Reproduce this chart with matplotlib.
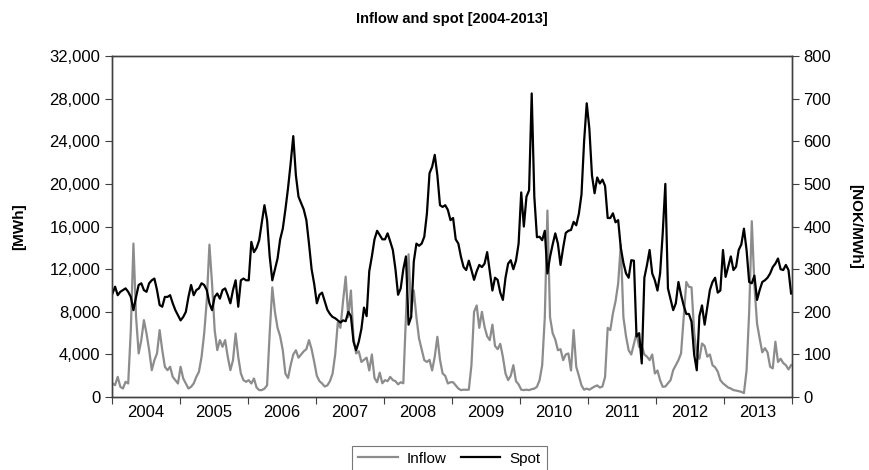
import matplotlib
matplotlib.use('Agg')
import matplotlib.pyplot as plt
import matplotlib.dates as mdates
import matplotlib.ticker as ticker
import numpy as np
import pandas as pd

plt.rcParams['font.family'] = ['Liberation Sans', 'DejaVu Sans']

years = list(range(2004, 2014))

# inflow [MWh], about every second week
inflow_2004 = [1280, 1130, 1900, 970, 810, 1440, 1280, 6290, 14400, 7540, 4100, 5350, 7220,
               5970, 4410, 2530, 3470, 4100, 6290, 4410, 2850, 2530, 2850, 1900, 1590, 1280]
inflow_2005 = [2850, 1750, 1280, 810, 970, 1280, 1900, 2380, 3780, 5970, 9100, 14300, 10660,
               6290, 4410, 5350, 4720, 5350, 3780, 2530, 3470, 5970, 3780, 2220, 1590, 1440]
inflow_2006 = [1590, 1280, 1750, 900, 660, 660, 800, 1100, 6000, 10300, 8000, 6500, 5700,
               4400, 2200, 1800, 3000, 4000, 4400, 3700, 4000, 4300, 4500, 5350, 4500, 3300]
inflow_2007 = [2000, 1500, 1280, 1000, 1100, 1500, 2200, 4000, 7000, 6500, 9000, 11300, 7500,
               10000, 5500, 4100, 4300, 3300, 3500, 3700, 2500, 4000, 1800, 1400, 2300, 1300]
inflow_2008 = [1590, 1500, 1900, 1600, 1500, 1200, 1400, 1300, 7540, 13400, 8000, 10000, 7500,
               5500, 4500, 3470, 3300, 3500, 2500, 3800, 5660, 3500, 2220, 2000, 1280, 1400]
inflow_2009 = [1400, 1100, 810, 660, 700, 690, 700, 3000, 8000, 8600, 6500, 8000, 6600,
               5700, 5350, 6800, 4800, 4500, 5000, 3780, 2220, 1600, 2000, 3000, 1500, 1200]
inflow_2010 = [700, 660, 700, 660, 750, 800, 970, 1590, 3000, 7500, 17500, 7500, 6000,
               5400, 4400, 4500, 3470, 4000, 4100, 2500, 6290, 2850, 2000, 1100, 700, 800]
inflow_2011 = [700, 850, 1000, 1100, 900, 1000, 1900, 6500, 6290, 7850, 9000, 10660, 14300,
               7500, 5700, 4400, 4000, 5000, 5970, 4700, 4800, 4000, 3800, 3470, 4000, 2220]
inflow_2012 = [2500, 1590, 970, 1000, 1300, 1600, 2530, 3000, 3470, 4100, 7500, 10800, 10350,
               10300, 6100, 4000, 3600, 5030, 4800, 3800, 4000, 3000, 2800, 2400, 1600, 1300]
inflow_2013 = [1100, 900, 810, 660, 620, 560, 500, 380, 2500, 8000, 16500, 10500, 6900,
               5500, 4200, 4600, 4200, 2850, 2700, 5200, 3300, 3600, 3200, 3000, 2600, 3000]

# spot price [NOK/MWh]
spot_2004 = [243, 259, 239, 247, 251, 255, 247, 235, 204, 235, 263, 267, 251,
             247, 267, 274, 278, 251, 216, 212, 235, 235, 239, 220, 204, 192]
spot_2005 = [180, 188, 200, 235, 263, 239, 251, 255, 267, 263, 251, 220, 204,
             235, 243, 231, 251, 255, 239, 220, 251, 274, 212, 274, 278, 274]
spot_2006 = [274, 364, 340, 350, 368, 410, 450, 415, 330, 274, 300, 325, 370,
             395, 440, 490, 548, 612, 520, 470, 455, 440, 415, 360, 300, 265]
spot_2007 = [220, 240, 245, 225, 205, 195, 188, 185, 180, 175, 180, 178, 200,
             190, 130, 110, 130, 160, 210, 190, 295, 330, 370, 390, 380, 370]
spot_2008 = [370, 384, 365, 345, 300, 240, 255, 300, 330, 170, 188, 318, 360,
             355, 360, 376, 430, 525, 540, 568, 520, 450, 446, 450, 439, 415]
spot_2009 = [420, 370, 360, 329, 305, 298, 320, 298, 275, 295, 310, 305, 313,
             340, 295, 250, 280, 275, 245, 228, 280, 313, 321, 300, 320, 360]
spot_2010 = [480, 400, 470, 485, 712, 470, 375, 376, 368, 390, 290, 329, 358,
             384, 360, 310, 350, 385, 390, 392, 411, 403, 430, 475, 600, 689]
spot_2011 = [630, 520, 478, 515, 501, 510, 495, 420, 420, 431, 410, 415, 350,
             315, 290, 280, 321, 320, 142, 150, 79, 280, 310, 345, 290, 274]
spot_2012 = [250, 290, 384, 500, 255, 230, 204, 220, 270, 240, 215, 195, 195,
             177, 100, 63, 190, 215, 170, 210, 251, 270, 280, 245, 250, 345]
spot_2013 = [282, 306, 330, 298, 306, 345, 358, 395, 345, 270, 267, 285, 228,
             251, 270, 274, 280, 290, 305, 313, 325, 300, 298, 310, 298, 243]

inflow = (inflow_2004 + inflow_2005 + inflow_2006 + inflow_2007 + inflow_2008 +
          inflow_2009 + inflow_2010 + inflow_2011 + inflow_2012 + inflow_2013)
spot = (spot_2004 + spot_2005 + spot_2006 + spot_2007 + spot_2008 +
        spot_2009 + spot_2010 + spot_2011 + spot_2012 + spot_2013)
dates = pd.date_range('2004-01-03', '2013-12-29', periods=len(spot))

fig = plt.figure(figsize=(8.69, 4.70), dpi=100)
ax = fig.add_axes([0.129, 0.155, 0.782, 0.726])
ax2 = ax.twinx()

l1, = ax.plot(dates, inflow, color='#8c8c8c', lw=1.6)
l2, = ax2.plot(dates, spot, color='black', lw=1.6)

ax.set_xlim(pd.Timestamp('2004-01-01'), pd.Timestamp('2014-01-01'))
ax.set_ylim(0, 32000)
ax2.set_ylim(0, 800)
ax.set_yticks(np.arange(0, 32001, 4000))
ax2.set_yticks(np.arange(0, 801, 100))
ax.yaxis.set_major_formatter(ticker.FuncFormatter(lambda v, p: f'{int(v):,}'))

# year ticks at boundaries, labels in the middle of each year
ax.xaxis.set_major_locator(mdates.YearLocator())
ax.xaxis.set_major_formatter(ticker.NullFormatter())
ax.set_xticks([pd.Timestamp(f'{y}-07-02') for y in years], minor=True)
ax.set_xticklabels([str(y) for y in years], minor=True)
ax.tick_params(axis='x', which='minor', length=0, labelsize=12, pad=6)
ax.tick_params(axis='x', which='major', length=5, color='#404040')
ax.tick_params(axis='y', labelsize=12, length=5, color='#404040')
ax2.tick_params(axis='y', labelsize=12, length=5, color='#404040')

for a in (ax, ax2):
    for s in a.spines.values():
        s.set_color('#404040')
        s.set_linewidth(1.0)

ax.set_ylabel('[MWh]', fontsize=11, fontweight='bold', labelpad=17)
ax2.set_ylabel('[NOK/MWh]', fontsize=11, fontweight='bold', rotation=270, labelpad=22)
fig.suptitle('Inflow and spot [2004-2013]', fontsize=10.5, fontweight='bold', y=0.975, x=0.52)

leg = fig.legend([l1, l2], ['Inflow', 'Spot'], loc='lower center', ncol=2,
                 bbox_to_anchor=(0.517, -0.02), fontsize=11, frameon=True,
                 fancybox=False, edgecolor='#555555', handlelength=2.6,
                 handletextpad=0.6, columnspacing=0.9, borderpad=0.4)
leg.get_frame().set_linewidth(0.8)

fig.savefig('out.png', dpi=100)
